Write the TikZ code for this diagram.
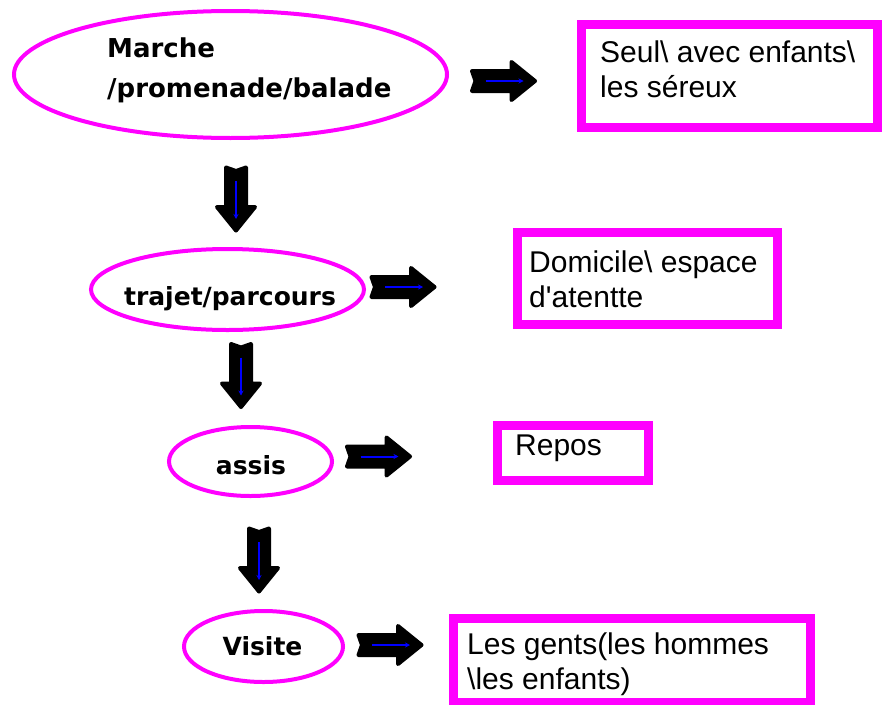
\documentclass[tikz,border=0pt]{standalone}
\usepackage{fontspec}
\setmainfont{Liberation Sans}
\newfontfamily\ovalfont{DejaVu Sans}
\usetikzlibrary{shapes.geometric,arrows.meta}
\definecolor{ovalpink}{RGB}{255,0,255}
\definecolor{arrowblue}{RGB}{0,0,255}
\tikzset{
  oval/.style={ellipse,draw=ovalpink,line width=4pt,inner sep=0pt},
  pinkbox/.style={draw=ovalpink,line width=9pt,inner sep=0pt},
  ovaltext/.style={font=\ovalfont\bfseries\fontsize{25}{30}\selectfont,inner sep=0pt},
  boxtext/.style={font=\fontsize{30}{35}\selectfont,align=left,inner sep=0pt},
  fatarrow/.pic={
    \draw[fill=black,line width=4pt,line join=round]
      (-31.5,-10)--(8,-10)--(8,-19)--(31.5,0)--(8,19)--(8,10)--(-31.5,10)--(-28,0)--cycle;
    \draw[arrowblue,line width=2pt,-{Stealth[length=5pt,width=5pt]}] (-18,0)--(20,0);
  }
}
\begin{document}
\begin{tikzpicture}
    [x=1pt,y=-1pt]
    \useasboundingbox (0,0) rectangle (882,704);
    %ovals
    \node[oval,minimum width=433,minimum height=127] (marche) at (230.5,74.5) {};
    \node[ovaltext,font=\ovalfont\bfseries\fontsize{26}{40}\selectfont,align=left,anchor=base west] (marchetext) at (107,97) {Marche\\/promenade/balade};
    \node[oval,minimum width=273,minimum height=81] (trajet) at (227.5,289.5) {};
    \node[ovaltext,anchor=base] (trajettext) at (230,305) {trajet/parcours};
    \node[oval,minimum width=163,minimum height=69] (assis) at (250.5,461.5) {};
    \node[ovaltext,anchor=base] (assistext) at (251,474) {assis};
    \node[oval,minimum width=159,minimum height=71] (visite) at (263.5,646.5) {};
    \node[ovaltext,anchor=base] (visitetext) at (262.5,655) {Visite};
    %boxes
    \node[pinkbox,minimum width=295.5,minimum height=103] (seul) at (729.25,76) {};
    \node[boxtext,anchor=base west] (seultext) at (600,97) {Seul\textbackslash{} avec enfants\textbackslash\\les séreux};
    \node[pinkbox,minimum width=260,minimum height=92] (domicile) at (647.5,278.5) {};
    \node[boxtext,anchor=base west] (domiciletext) at (529,307) {Domicile\textbackslash{} espace\\d\textquotesingle atentte};
    \node[pinkbox,minimum width=151,minimum height=55] (repos) at (573,453) {};
    \node[boxtext,anchor=base west] (repostext) at (515,455) {Repos};
    \node[pinkbox,minimum width=357,minimum height=84] (gents) at (632,660.5) {};
    \node[boxtext,anchor=base west] (gentstext) at (467,689) {Les gents(les hommes\\\textbackslash les enfants)};
    %arrows right
    \pic at (503.5,81) {fatarrow};
    \pic at (403,287) {fatarrow};
    \pic at (378.5,456.5) {fatarrow};
    \pic at (390,645) {fatarrow};
    %arrows down
    \pic[rotate=-90] at (236,199) {fatarrow};
    \pic[rotate=-90] at (241,375.5) {fatarrow};
    \pic[rotate=-90] at (259,560) {fatarrow};
\end{tikzpicture}
\end{document}
